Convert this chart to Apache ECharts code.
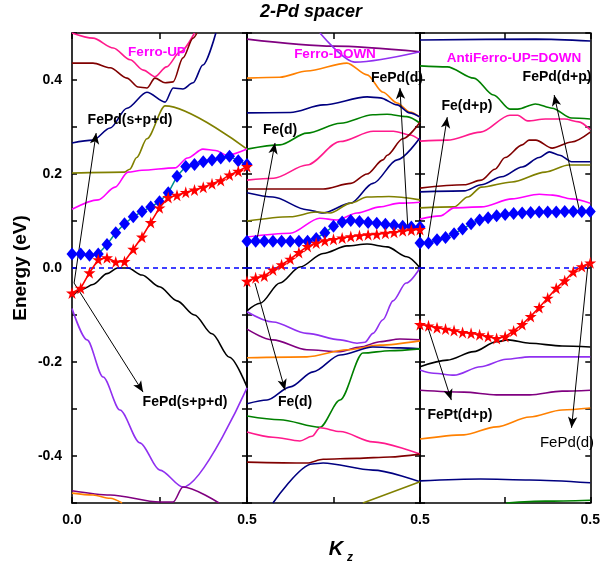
<!DOCTYPE html>
<html>
<head>
<meta charset="utf-8">
<script src="https://cdn.jsdelivr.net/npm/echarts@6/dist/echarts.min.js"></script>
<style>
  html, body { margin: 0; padding: 0; background: #fff; }
  #main { width: 603px; height: 580px; }
</style>
</head>
<body>
<div id="main"></div>
<script>
// ---- k-point sampling for the highlighted bands (Kz, 0 .. 0.5) ----
const kGrid = [0, 0.025, 0.05, 0.075, 0.1, 0.125, 0.15, 0.175, 0.2, 0.225, 0.25,
               0.275, 0.3, 0.325, 0.35, 0.375, 0.4, 0.425, 0.45, 0.475, 0.5];

// ---- Ferro-UP panel ----
const p1Pink = [[0,0.5],[0.06,0.489],[0.118,0.468],[0.166,0.443],[0.204,0.421],[0.237,0.407],[0.27,0.428],[0.309,0.46],[0.35,0.5]];
const p1Maroon = [[0,0.436],[0.06,0.436],[0.109,0.426],[0.157,0.404],[0.189,0.385],[0.214,0.383],[0.237,0.404],[0.266,0.394],[0.289,0.396],[0.317,0.447],[0.346,0.489],[0.357,0.5]];
const p1Navy = [[0,0.266],[0.06,0.272],[0.109,0.298],[0.157,0.34],[0.214,0.374],[0.266,0.353],[0.289,0.383],[0.317,0.381],[0.346,0.394],[0.374,0.432],[0.411,0.5]];
const p1Olive = [[0,0.202],[0.15,0.204],[0.165,0.21],[0.185,0.235],[0.214,0.275],[0.266,0.345],[0.5,0.253]];
const p1Magenta = [[0,0.125],[0.075,0.145],[0.123,0.172],[0.16,0.204],[0.2,0.208],[0.294,0.213],[0.33,0.234],[0.374,0.253],[0.41,0.25],[0.443,0.24],[0.5,0.253]];
const p1Black = [[0,-0.06],[0.03,-0.045],[0.06,-0.035],[0.1,-0.012],[0.13,0.0],[0.16,0.0],[0.2,-0.015],[0.25,-0.04],[0.3,-0.07],[0.35,-0.1],[0.4,-0.14],[0.45,-0.19],[0.5,-0.253]];
const p1Violet = [[0,-0.086],[0.043,-0.153],[0.089,-0.232],[0.137,-0.302],[0.194,-0.372],[0.251,-0.43],[0.317,-0.466],[0.5,-0.255]];
const p1Purple = [[0,-0.474],[0.109,-0.483],[0.251,-0.498],[0.289,-0.498],[0.317,-0.466],[0.42,-0.5]];
const p1Orange = [[0,-0.479],[0.06,-0.483],[0.109,-0.49],[0.143,-0.5]];
const p1Diamonds = [0.03,0.03,0.027,0.03,0.05,0.075,0.094,0.109,0.12,0.13,0.141,0.16,0.195,0.216,0.22,0.226,0.23,0.234,0.238,0.228,0.22];
const p1Stars = [-0.053,-0.043,-0.01,0.018,0.022,0.013,0.014,0.04,0.066,0.097,0.128,0.15,0.155,0.161,0.166,0.172,0.179,0.186,0.198,0.206,0.216];

// ---- Ferro-DOWN panel ----
const p2PurpleTop = [[0,0.487],[0.25,0.472],[0.5,0.46]];
const p2VioletTop = [[0.211,0.5],[0.312,0.438],[0.5,0.46]];
const p2Orange = [[0,0.404],[0.095,0.406],[0.173,0.419],[0.289,0.436],[0.347,0.411],[0.393,0.374],[0.434,0.351],[0.471,0.332],[0.5,0.321]];
const p2Navy = [[0,0.33],[0.125,0.331],[0.22,0.347],[0.347,0.364],[0.385,0.362],[0.434,0.347],[0.47,0.33],[0.5,0.321]];
const p2Green = [[0,0.253],[0.095,0.262],[0.173,0.287],[0.27,0.308],[0.364,0.326],[0.405,0.327],[0.462,0.322],[0.5,0.308]];
const p2Pink = [[0,0.187],[0.077,0.191],[0.173,0.219],[0.269,0.269],[0.365,0.291],[0.423,0.291],[0.471,0.283],[0.5,0.272]];
const p2Maroon = [[0,0.168],[0.22,0.168],[0.3,0.18],[0.347,0.2],[0.393,0.23],[0.405,0.24],[0.45,0.275],[0.5,0.31]];
const p2Navy2 = [[0,0.16],[0.075,0.151],[0.173,0.124],[0.22,0.117],[0.3,0.138],[0.364,0.18],[0.434,0.23],[0.5,0.277]];
const p2Olive = [[0,0.1],[0.125,0.109],[0.2,0.119],[0.24,0.117],[0.3,0.138],[0.347,0.151],[0.41,0.152],[0.5,0.145]];
const p2Magenta = [[0,0.066],[0.125,0.074],[0.21,0.106],[0.26,0.102],[0.318,0.117],[0.384,0.13],[0.44,0.138],[0.5,0.14]];
const p2Black = [[0,-0.091],[0.038,-0.075],[0.095,-0.032],[0.153,0.002],[0.22,0.031],[0.289,0.047],[0.347,0.051],[0.405,0.045],[0.462,0.024],[0.5,0.0]];
const p2Violet = [[0,-0.093],[0.075,-0.115],[0.173,-0.139],[0.27,-0.153],[0.318,-0.16],[0.341,-0.158],[0.364,-0.139],[0.393,-0.11],[0.422,-0.07],[0.46,-0.032],[0.5,0.0]];
const p2Purple = [[0,-0.13],[0.075,-0.153],[0.173,-0.174],[0.269,-0.178],[0.327,-0.168],[0.384,-0.157],[0.442,-0.151],[0.5,-0.153]];
const p2Orange2 = [[0,-0.191],[0.173,-0.189],[0.289,-0.174],[0.384,-0.164],[0.5,-0.155]];
const p2NavyLow = [[0,-0.289],[0.058,-0.281],[0.125,-0.253],[0.191,-0.221],[0.269,-0.185],[0.364,-0.168],[0.442,-0.17],[0.5,-0.172]];
const p2GreenLow = [[0,-0.315],[0.095,-0.323],[0.211,-0.339],[0.269,-0.281],[0.335,-0.181],[0.413,-0.176],[0.5,-0.172]];
const p2PinkLow = [[0,-0.349],[0.075,-0.36],[0.153,-0.368],[0.188,-0.358],[0.211,-0.34],[0.269,-0.348],[0.364,-0.37],[0.5,-0.396]];
const p2MaroonLow = [[0,-0.413],[0.173,-0.415],[0.22,-0.407],[0.318,-0.405],[0.413,-0.402],[0.5,-0.396]];
const p2NavyBottom = [[0.075,-0.5],[0.188,-0.417],[0.22,-0.415],[0.364,-0.43],[0.5,-0.455]];
const p2OliveBottom = [[0.335,-0.5],[0.5,-0.455]];
const p2Diamonds = [0.057,0.057,0.057,0.057,0.057,0.057,0.057,0.057,0.063,0.075,0.089,0.098,0.101,0.099,0.097,0.095,0.093,0.091,0.089,0.087,0.087];
const p2Stars = [-0.028,-0.021,-0.017,-0.004,0.007,0.019,0.033,0.046,0.053,0.058,0.061,0.064,0.067,0.069,0.071,0.072,0.074,0.076,0.079,0.081,0.082];

// ---- AntiFerro panel ----
const p3NavyTop = [[0,0.485],[0.34,0.487],[0.5,0.483]];
const p3Green = [[0,0.43],[0.08,0.428],[0.158,0.404],[0.216,0.368],[0.264,0.338],[0.287,0.338],[0.339,0.349],[0.388,0.34],[0.445,0.319],[0.5,0.317]];
const p3Pink = [[0,0.27],[0.08,0.272],[0.178,0.289],[0.264,0.325],[0.287,0.325],[0.316,0.313],[0.368,0.317],[0.425,0.317],[0.466,0.311],[0.5,0.294]];
const p3Maroon = [[0,0.17],[0.13,0.177],[0.18,0.187],[0.22,0.21],[0.25,0.235],[0.3,0.262],[0.32,0.272],[0.34,0.272],[0.388,0.255],[0.445,0.268],[0.5,0.289]];
const p3Navy = [[0,0.162],[0.13,0.164],[0.18,0.177],[0.24,0.194],[0.3,0.215],[0.35,0.235],[0.38,0.247],[0.41,0.24],[0.445,0.226],[0.5,0.226]];
const p3Olive = [[0,0.128],[0.1,0.13],[0.14,0.151],[0.18,0.172],[0.27,0.183],[0.368,0.204],[0.437,0.219],[0.5,0.219]];
const p3Magenta = [[0,0.104],[0.06,0.111],[0.1,0.128],[0.18,0.13],[0.27,0.147],[0.35,0.157],[0.39,0.155],[0.445,0.147],[0.5,0.138]];
const p3Black = [[0,-0.21],[0.08,-0.196],[0.158,-0.178],[0.224,-0.157],[0.259,-0.153],[0.322,-0.16],[0.417,-0.166],[0.5,-0.168]];
const p3Violet = [[0,-0.217],[0.04,-0.224],[0.1,-0.228],[0.178,-0.21],[0.253,-0.194],[0.322,-0.189],[0.5,-0.189]];
const p3Purple = [[0,-0.26],[0.129,-0.264],[0.224,-0.27],[0.322,-0.27],[0.417,-0.262],[0.5,-0.26]];
const p3Orange = [[0,-0.364],[0.129,-0.355],[0.224,-0.338],[0.322,-0.317],[0.417,-0.302],[0.5,-0.298]];
const p3NavyLow = [[0,-0.453],[0.178,-0.449],[0.322,-0.451],[0.5,-0.457]];
const p3GreenBottom = [[0.253,-0.5],[0.368,-0.496],[0.5,-0.494]];
const p3Diamonds = [0.053,0.053,0.06,0.065,0.073,0.083,0.094,0.102,0.107,0.111,0.114,0.116,0.117,0.118,0.119,0.119,0.119,0.12,0.12,0.12,0.12];
const p3Stars = [-0.12,-0.123,-0.127,-0.13,-0.133,-0.137,-0.139,-0.142,-0.146,-0.15,-0.146,-0.134,-0.12,-0.103,-0.084,-0.064,-0.043,-0.027,-0.008,0.003,0.011];

// Fermi level
const fermiLevel = [[0, 0], [0.5, 0]];

// ---- orbital-character pointers: [from, to] in (Kz, E) ----
const arrowsP1 = [[[0.006,-0.032],[0.069,0.287]], [[0.006,-0.032],[0.203,-0.264]]];
const arrowsP2 = [[[0.026,0.049],[0.081,0.266]], [[0.023,-0.032],[0.11,-0.26]], [[0.465,0.085],[0.442,0.383]]];
const arrowsP3 = [[[0.023,0.06],[0.08,0.321]], [[0.468,0.123],[0.394,0.368]], [[0.023,-0.126],[0.092,-0.281]], [[0.494,0.013],[0.445,-0.34]]];

// colour set
const C = {
  pink: '#ff1a8c', maroon: '#800000', navy: '#000080', olive: '#808000',
  magenta: '#ff00ff', black: '#000000', violet: '#9030f0', purple: '#800080',
  orange: '#ff8000', green: '#008000'
};

const bands = [
  [0, p1Pink, C.pink], [0, p1Maroon, C.maroon], [0, p1Navy, C.navy], [0, p1Olive, C.olive],
  [0, p1Magenta, C.magenta], [0, p1Black, C.black], [0, p1Violet, C.violet], [0, p1Purple, C.purple],
  [0, p1Orange, C.orange],
  [1, p2PurpleTop, C.purple], [1, p2VioletTop, C.violet], [1, p2Orange, C.orange], [1, p2Navy, C.navy],
  [1, p2Green, C.green], [1, p2Pink, C.pink], [1, p2Maroon, C.maroon], [1, p2Navy2, C.navy],
  [1, p2Olive, C.olive], [1, p2Magenta, C.magenta], [1, p2Black, C.black], [1, p2Violet, C.violet],
  [1, p2Purple, C.purple], [1, p2Orange2, C.orange], [1, p2NavyLow, C.navy], [1, p2GreenLow, C.green],
  [1, p2PinkLow, C.pink], [1, p2MaroonLow, C.maroon], [1, p2NavyBottom, C.navy], [1, p2OliveBottom, C.olive],
  [2, p3NavyTop, C.navy], [2, p3Green, C.green], [2, p3Pink, C.pink], [2, p3Maroon, C.maroon],
  [2, p3Navy, C.navy], [2, p3Olive, C.olive], [2, p3Magenta, C.magenta], [2, p3Black, C.black],
  [2, p3Violet, C.violet], [2, p3Purple, C.purple], [2, p3Orange, C.orange], [2, p3NavyLow, C.navy],
  [2, p3GreenBottom, C.green]
];
const diamondSets = [p1Diamonds, p2Diamonds, p3Diamonds];
const starSets = [p1Stars, p2Stars, p3Stars];
const arrowSets = [arrowsP1, arrowsP2, arrowsP3];

const FONT = '"Liberation Sans", Arial, Helvetica, sans-serif';
const STAR = 'path://M50,0 L61,35 L98,35 L68,57 L79,91 L50,70 L21,91 L32,57 L2,35 L39,35 Z';

const grids = [
  { left: 72, top: 33, width: 175, height: 470 },
  { left: 247, top: 33, width: 173, height: 470 },
  { left: 420, top: 33, width: 174, height: 470 }
];

const axisLine = { show: true, onZero: false, lineStyle: { color: '#000', width: 1.6 } };
const xAxes = [], yAxes = [];
[0, 1, 2].forEach(function (g) {
  xAxes.push({
    type: 'value', gridIndex: g, min: 0, max: 0.5, interval: 0.25, position: 'bottom',
    axisLine: axisLine, splitLine: { show: false },
    axisTick: { show: true, inside: true, length: 6, lineStyle: { color: '#000', width: 1.5 } },
    axisLabel: {
      show: true, margin: 10, color: '#000', fontFamily: FONT, fontWeight: 'bold', fontSize: 14,
      showMinLabel: true, showMaxLabel: true,
      formatter: function (v) {
        if (Math.abs(v - 0.5) < 1e-9) return '0.5';
        if (g === 0 && Math.abs(v) < 1e-9) return '0.0';
        return '';
      }
    }
  });
});
[0, 1, 2].forEach(function (g) {
  xAxes.push({
    type: 'value', gridIndex: g, min: 0, max: 0.5, interval: 0.25, position: 'top',
    axisLine: axisLine, splitLine: { show: false },
    axisTick: { show: true, inside: true, length: 6, lineStyle: { color: '#000', width: 1.5 } },
    axisLabel: { show: false }
  });
});
[0, 1, 2].forEach(function (g) {
  yAxes.push({
    type: 'value', gridIndex: g, min: -0.5, max: 0.5, interval: 0.1, position: 'left',
    axisLine: axisLine, splitLine: { show: false },
    axisTick: { show: true, inside: true, length: 5, lineStyle: { color: '#000', width: 1.5 } },
    axisLabel: {
      show: g === 0, margin: 10, color: '#000', fontFamily: FONT, fontWeight: 'bold', fontSize: 14,
      formatter: function (v) {
        const n = Math.round(v * 10);
        if (n % 2 !== 0 || Math.abs(n) === 5) return '';
        return (n / 10).toFixed(1);
      }
    }
  });
});
[0, 1, 2].forEach(function (g) {
  yAxes.push({
    type: 'value', gridIndex: g, min: -0.5, max: 0.5, interval: 0.1, position: 'right',
    axisLine: axisLine, splitLine: { show: false },
    axisTick: { show: true, inside: true, length: 5, lineStyle: { color: '#000', width: 1.5 } },
    axisLabel: { show: false }
  });
});

const series = [];
bands.forEach(function (b) {
  series.push({
    type: 'line', xAxisIndex: b[0], yAxisIndex: b[0], data: b[1],
    showSymbol: false, symbol: 'none', smooth: 0.3, smoothMonotone: 'x',
    lineStyle: { color: b[2], width: 1.6 }, silent: true, z: 2
  });
});
[0, 1, 2].forEach(function (g) {
  // Fermi level with pointer arrows
  series.push({
    type: 'line', xAxisIndex: g, yAxisIndex: g, data: fermiLevel,
    showSymbol: false, symbol: 'none',
    lineStyle: { color: '#0000ff', width: 1.5, type: [5, 4] }, silent: true, z: 3,
    markLine: {
      silent: true, symbol: ['none', 'arrow'], symbolSize: [7, 11],
      label: { show: false },
      lineStyle: { color: '#000', width: 1, type: 'solid' },
      emphasis: { disabled: true },
      data: arrowSets[g].map(function (a) { return [{ coord: a[0] }, { coord: a[1] }]; })
    }
  });
  series.push({
    type: 'line', xAxisIndex: g, yAxisIndex: g,
    data: kGrid.map(function (k, i) { return [k, diamondSets[g][i]]; }),
    symbol: 'diamond', symbolSize: [11, 13], showAllSymbol: true,
    itemStyle: { color: '#0000ff' }, lineStyle: { color: '#009090', width: 1.5 },
    silent: true, z: 5
  });
  series.push({
    type: 'line', xAxisIndex: g, yAxisIndex: g,
    data: kGrid.map(function (k, i) { return [k, starSets[g][i]]; }),
    symbol: STAR, symbolSize: 12, showAllSymbol: true,
    itemStyle: { color: '#ff0000' }, lineStyle: { color: '#ff0000', width: 1.6 },
    silent: true, z: 6
  });
});

function txt(x, y, text, opt) {
  opt = opt || {};
  return {
    type: 'text', x: x, y: y, rotation: opt.rotation || 0, z: 100,
    style: {
      text: text, fill: opt.color || '#000',
      font: (opt.style || '') + ' ' + (opt.weight || 'bold') + ' ' + (opt.size || 13) + 'px ' + FONT,
      textAlign: opt.align || 'center', textVerticalAlign: 'middle'
    }
  };
}

const graphics = [
  txt(311, 12, '2-Pd spacer', { style: 'italic', size: 18 }),
  txt(21, 268, 'Energy (eV)', { size: 19, rotation: Math.PI / 2 }),
  txt(336, 549, 'K', { style: 'italic', size: 20 }),
  txt(347, 558, 'z', { style: 'italic', size: 12, align: 'left' }),
  txt(157, 52, 'Ferro-UP', { color: '#ff00ff', size: 13.5 }),
  txt(335, 54, 'Ferro-DOWN', { color: '#ff00ff', size: 13.5 }),
  txt(514, 58, 'AntiFerro-UP=DOWN', { color: '#ff00ff', size: 13.5 }),
  txt(130, 120, 'FePd(s+p+d)', { size: 14 }),
  txt(185, 402, 'FePd(s+p+d)', { size: 14 }),
  txt(280, 130, 'Fe(d)', { size: 14 }),
  txt(295, 402, 'Fe(d)', { size: 14 }),
  txt(423, 78, 'FePd(d)', { align: 'right', size: 14 }),
  txt(557, 77, 'FePd(d+p)', { size: 14 }),
  txt(467, 106, 'Fe(d+p)', { size: 14 }),
  txt(460, 415, 'FePt(d+p)', { size: 14 }),
  txt(567, 443, 'FePd(d)', { weight: 'normal', size: 15 })
];

const chart = echarts.init(document.getElementById('main'), null, { renderer: 'canvas' });
chart.setOption({
  animation: false,
  backgroundColor: '#ffffff',
  grid: grids,
  xAxis: xAxes,
  yAxis: yAxes,
  series: series,
  graphic: graphics
});
</script>
</body>
</html>
